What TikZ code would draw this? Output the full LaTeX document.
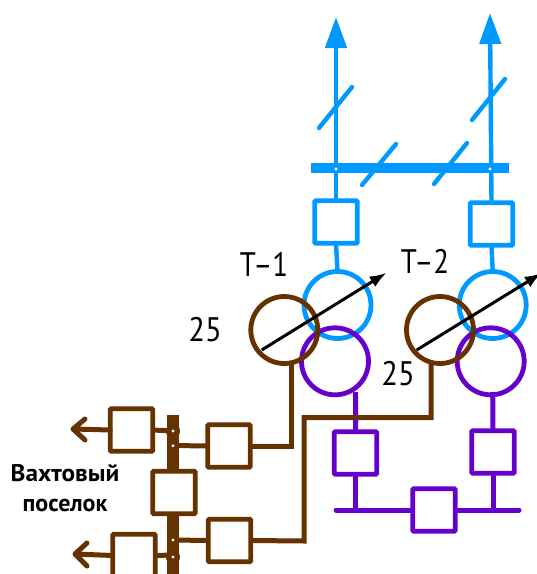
\documentclass[tikz,border=0pt]{standalone}
\usepackage{graphicx}
\usepackage{fontspec}
\setmainfont{PT Sans}
\usetikzlibrary{arrows.meta}
\definecolor{cblue}{HTML}{0099FF}
\definecolor{cbrown}{HTML}{663300}
\definecolor{cpurple}{HTML}{6600CC}
\tikzset{
  sq/.style={draw=#1,fill=white,line width=4.6pt,minimum size=42.5pt,inner sep=0pt,outer sep=0pt,rounded corners=0.8pt,shape=rectangle},
  wind/.style={draw=#1,circle,line width=4.8pt,minimum size=67pt,inner sep=0pt,outer sep=0pt},
  wire/.style={line width=5pt},
  slash/.style={cblue,line width=4.4pt,line cap=round},
  dot/.style={circle,fill=white,inner sep=0pt,minimum size=3.4pt},
  lab/.style={inner sep=0pt,font=\fontsize{34}{34}\selectfont},
  cap2/.style={inner sep=0pt,font=\fontsize{24}{24}\selectfont\bfseries},
  ratio/.style={line width=3pt,-{Latex[length=17pt,width=12pt]}},
}
\begin{document}
\begin{tikzpicture}[x=1pt,y=-1pt]
\useasboundingbox (0,0) rectangle (537,574);
\begin{scope}
\clip (0,0) rectangle (537,574);
% blue
\coordinate (tipA) at (336,17);
\coordinate (tipB) at (490,13);
\coordinate (busL) at (311,168);
\coordinate (busR) at (509,168);
\node[wind=cblue] (hvA) at (337.5,305) {};
\node[wind=cblue] (hvB) at (492.7,305) {};
\node[sq=cblue] (bkA) at (336,222) {};
\node[sq=cblue] (bkB) at (491.5,224) {};
\draw[cblue,line width=4.4pt,-{Triangle[length=31pt,width=21pt]}] (bkA.north) -- (tipA);
\draw[cblue,line width=4.4pt,-{Triangle[length=31pt,width=21pt]}] (bkB.north) -- (tipB);
\draw[cblue,line width=4.4pt] (bkA.south) -- (hvA.north);
\draw[cblue,line width=4.4pt] (bkB.south) -- (hvB.north);
\draw[cblue,line width=10pt] (busL) -- (busR);
\draw[slash] (319,128) -- (352,87);
\draw[slash] (472,120) -- (505,79);
\draw[slash] (362,185) -- (396,144);
\draw[slash] (434,184) -- (467,143);
\node[dot] (dA) at (336,169) {};
\node[dot] (dB) at (490,169) {};
% purple
\node[wind=cpurple] (lvA) at (335,361.3) {};
\node[wind=cpurple] (lvB) at (490.7,361.3) {};
\coordinate (pbL) at (336,510);
\coordinate (pbR) at (519,510);
\draw[wire,cpurple,line cap=round] (pbL) -- (pbR);
\node[sq=cpurple] (pA) at (355.5,453) {};
\node[sq=cpurple] (pB) at (493,452) {};
\node[sq=cpurple] (pC) at (434,510) {};
\coordinate (pAb) at (355.5,510);
\coordinate (pBb) at (493,510);
\draw[wire,cpurple] (355.7,392) -- (pA.north);
\draw[wire,cpurple] (492.7,392) -- (pB.north);
\draw[wire,cpurple] (pA.south) -- (pAb);
\draw[wire,cpurple] (pB.south) -- (pBb);
% brown
\node[wind=cbrown] (mvA) at (284.3,330) {};
\node[wind=cbrown] (mvB) at (440,330) {};
\coordinate (barT) at (172.5,415);
\coordinate (barB) at (172.5,574);
\draw[cbrown,line width=12pt] (barT) -- (barB);
\draw[cbrown,line width=14.5pt,line cap=round] (173,431) -- (173,431.1);
\draw[cbrown,line width=14.5pt,line cap=round] (173,557) -- (173,557.1);
\node[sq=cbrown] (fA) at (131.5,430) {};
\node[sq=cbrown] (fB) at (134,555.5) {};
\node[sq=cbrown] (sec) at (174,492.5) {};
\node[sq=cbrown] (iA) at (229,446) {};
\node[sq=cbrown] (iB) at (229.5,540.5) {};
\coordinate (outA) at (73,429);
\coordinate (outB) at (75,554);
\draw[wire,cbrown,line cap=round,line join=round] (fA.west) -- (outA) (85,419) -- (outA) -- (85,440);
\draw[wire,cbrown,line cap=round,line join=round] (fB.west) -- (outB) (87,543) -- (outB) -- (87,566);
\draw[wire,cbrown] (fA.east) -- (173,431);
\draw[wire,cbrown] (fB.east) -- (173,555);
\draw[wire,cbrown] (173,445.5) -- (iA.west);
\draw[wire,cbrown] (173,540) -- (iB.west);
\draw[wire,cbrown] (iA.east) -- (291,446) -- (291,364);
\draw[wire,cbrown] (iB.east) -- (304,541) -- (304,417.5) -- (431,417.5) -- (431,364);
\node[dot] (b1) at (173,431) {};
\node[dot] (b2) at (173,445.7) {};
\node[dot] (b3) at (173,540) {};
\node[dot] (b4) at (173,557) {};
\end{scope}
% ratio arrows
\begin{scope}
\clip (0,0) rectangle (537,574);
\coordinate (rA) at (261.7,350);
\coordinate (rAe) at (386.7,272.7);
\coordinate (rB) at (416.7,350);
\coordinate (rBe) at (541.7,273);
\draw[ratio] (rA) -- (rAe);
\draw[ratio] (rB) -- (rBe);
\end{scope}
% labels
\node[lab] (t1) at (264,264) {\scalebox{0.85}[1]{Т–1}};
\node[lab] (t2) at (425,261) {\scalebox{0.85}[1]{Т–2}};
\node[lab] (n1) at (205,330) {\scalebox{0.9}[1]{25}};
\node[lab] (n2) at (398,374) {\scalebox{0.9}[1]{25}};
\node[cap2] (v1) at (65,473) {\scalebox{1.05}[1]{Вахтовый}};
\node[cap2] (v2) at (65,505) {поселок};
\end{tikzpicture}
\end{document}
